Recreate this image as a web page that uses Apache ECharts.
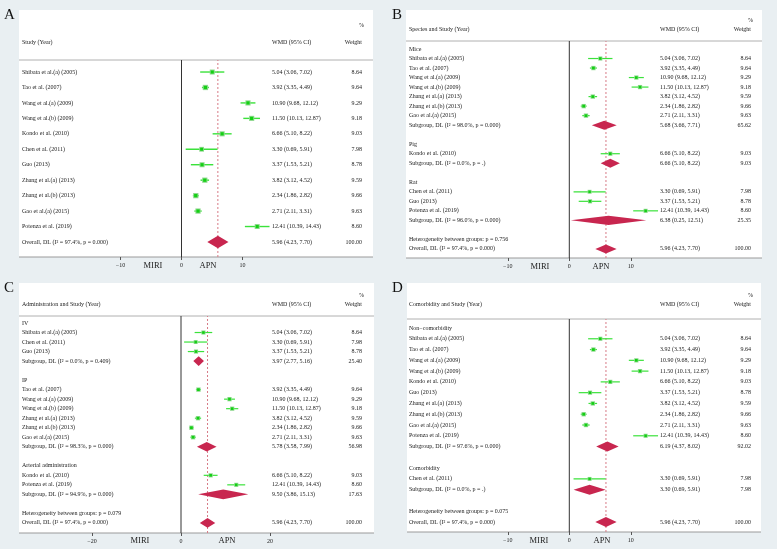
<!DOCTYPE html>
<html><head><meta charset="utf-8">
<script src="https://cdn.jsdelivr.net/npm/echarts@6/dist/echarts.min.js"></script>
<style>html,body{margin:0;padding:0;background:#e9eff2;}#c{width:777px;height:549px;}</style>
</head><body><div id="c"></div>
<script>
// ---------- DATA ----------
const studyNames = ['Shibata et al.(a) (2005)','Tao et al. (2007)','Wang et al.(a) (2009)','Wang et al.(b) (2009)','Kondo et al. (2010)','Chen et al. (2011)','Guo (2013)','Zhang et al.(a) (2013)','Zhang et al.(b) (2013)','Gao et al.(a) (2015)','Potenza et al. (2019)'];
const studyWMD    = [5.04, 3.92, 10.90, 11.50, 6.66, 3.30, 3.37, 3.82, 2.34, 2.71, 12.41];
const studyLower  = [3.06, 3.35, 9.68, 10.13, 5.10, 0.69, 1.53, 3.12, 1.86, 2.11, 10.39];
const studyUpper  = [7.02, 4.49, 12.12, 12.87, 8.22, 5.91, 5.21, 4.52, 2.82, 3.31, 14.43];
const studyWeight = [8.64, 9.64, 9.29, 9.18, 9.03, 7.98, 8.78, 9.59, 9.66, 9.63, 8.60];

const overallLabel = 'Overall, DL (I² = 97.4%, p = 0.000)';
const overallWMD = 5.96, overallLower = 4.23, overallUpper = 7.70, overallWeight = 100.00;

const allStudiesOrder = [0,1,2,3,4,5,6,7,8,9,10];

const speciesGroups   = ['Mice','Pig','Rat'];
const speciesMembers  = [[0,1,2,3,7,8,9],[4],[5,6,10]];
const speciesSubLabel = ['Subgroup, DL (I² = 98.0%, p = 0.000)','Subgroup, DL (I² = 0.0%, p = .)','Subgroup, DL (I² = 96.0%, p = 0.000)'];
const speciesSubWMD   = [5.68, 6.66, 6.38];
const speciesSubLower = [3.66, 5.10, 0.25];
const speciesSubUpper = [7.71, 8.22, 12.51];
const speciesSubWeight= [65.62, 9.03, 25.35];
const speciesHetP = '0.756';

const adminGroups   = ['IV','IP','Arterial administration'];
const adminMembers  = [[0,5,6],[1,2,3,7,8,9],[4,10]];
const adminSubLabel = ['Subgroup, DL (I² = 0.0%, p = 0.409)','Subgroup, DL (I² = 98.3%, p = 0.000)','Subgroup, DL (I² = 94.9%, p = 0.000)'];
const adminSubWMD   = [3.97, 5.78, 9.50];
const adminSubLower = [2.77, 3.58, 3.86];
const adminSubUpper = [5.16, 7.99, 15.13];
const adminSubWeight= [25.40, 56.98, 17.63];
const adminHetP = '0.079';

const comorbGroups   = ['Non−comorbidity','Comorbidity'];
const comorbMembers  = [[0,1,2,3,4,6,7,8,9,10],[5]];
const comorbSubLabel = ['Subgroup, DL (I² = 97.6%, p = 0.000)','Subgroup, DL (I² = 0.0%, p = .)'];
const comorbSubWMD   = [6.19, 3.30];
const comorbSubLower = [4.37, 0.69];
const comorbSubUpper = [8.02, 5.91];
const comorbSubWeight= [92.02, 7.98];
const comorbHetP = '0.075';

const ticksAB = [-10, 0, 10];
const ticksC  = [-20, 0, 20];

// ---------- ROW BUILDERS ----------
function studyRow(i){ return {kind:'study', label:studyNames[i], est:studyWMD[i], lo:studyLower[i], hi:studyUpper[i], w:studyWeight[i]}; }
function overallRow(){ return {kind:'overall', label:overallLabel, est:overallWMD, lo:overallLower, hi:overallUpper, w:overallWeight}; }
function grouped(names, members, subL, subE, subLo, subHi, subW, het){
  const rows = [];
  names.forEach((g, gi) => {
    rows.push({kind:'group', label:g});
    members[gi].forEach(si => rows.push(studyRow(si)));
    rows.push({kind:'sub', label:subL[gi], est:subE[gi], lo:subLo[gi], hi:subHi[gi], w:subW[gi]});
    rows.push({kind:'blank', label:''});
  });
  rows.push({kind:'het', label:'Heterogeneity between groups: p = ' + het});
  rows.push(overallRow());
  return rows;
}
const rowsA = allStudiesOrder.map(studyRow).concat([overallRow()]);
const rowsB = grouped(speciesGroups, speciesMembers, speciesSubLabel, speciesSubWMD, speciesSubLower, speciesSubUpper, speciesSubWeight, speciesHetP);
const rowsC = grouped(adminGroups, adminMembers, adminSubLabel, adminSubWMD, adminSubLower, adminSubUpper, adminSubWeight, adminHetP);
const rowsD = grouped(comorbGroups, comorbMembers, comorbSubLabel, comorbSubWMD, comorbSubLower, comorbSubUpper, comorbSubWeight, comorbHetP);

// ---------- LAYOUT ----------
const FONT = 'Liberation Serif, Times New Roman, serif';
const TXT = '#222';
const panels = [
  {letter:'A', title:'Study (Year)', rows:rowsA, ticks:ticksAB, min:-10, max:14.5,
   box:[19,10,373,257], zeroX:181.5, scale:6.1, textLeft:22, ciLeft:272, wRight:362,
   rowsTop:64.3, rowH:15.45, headerLine:60, headerY:42, pctY:25, letterXY:[4,8],
   miri:153, apn:208, axisY:266, sq:1.7, dia:0.82, lw:1.4},
  {letter:'B', title:'Species and Study (Year)', rows:rowsB, ticks:ticksAB, min:-10, max:14.5,
   box:[406,10,762,258], zeroX:569.3, scale:6.15, textLeft:409, ciLeft:660, wRight:751,
   rowsTop:44.24, rowH:9.52, headerLine:41, headerY:29, pctY:20, letterXY:[392,8],
   miri:540, apn:601, axisY:267, sq:1.4, dia:0.95, lw:1.2},
  {letter:'C', title:'Administration and Study (Year)', rows:rowsC, ticks:ticksC, min:-20, max:20,
   box:[19,283,374,533], zeroX:181, scale:4.45, textLeft:22, ciLeft:272, wRight:362,
   rowsTop:318.24, rowH:9.52, headerLine:316, headerY:304, pctY:295, letterXY:[4,281],
   miri:140, apn:227, axisY:541, sq:1.4, dia:1.02, lw:1.2},
  {letter:'D', title:'Comorbidity and Study (Year)', rows:rowsD, ticks:ticksAB, min:-10, max:14.5,
   box:[407,283,761,532], zeroX:569.3, scale:6.15, textLeft:409, ciLeft:660, wRight:751,
   rowsTop:322.6, rowH:10.78, headerLine:319, headerY:304, pctY:295, letterXY:[392,281],
   miri:539, apn:602, axisY:541, sq:1.4, dia:0.92, lw:1.2}
];

const fmt = v => v.toFixed(2);
const tickFmt = v => v < 0 ? '−' + Math.abs(v) : String(v);

const option = {animation:false, backgroundColor:'#e9eff2', grid:[], xAxis:[], yAxis:[], series:[], graphic:[]};

panels.forEach((p) => {
  const gridLeft = p.zeroX + p.min * p.scale;
  const gridWidth = (p.max - p.min) * p.scale;
  const gridRight = gridLeft + gridWidth;
  const nRows = p.rows.length;
  const cats = p.rows.map((r, i) => String(i));

  const gRows = option.grid.length;
  option.grid.push({left:gridLeft, width:gridWidth, top:p.rowsTop, height:p.rowH * nRows, containLabel:false});
  const gFrame = option.grid.length;
  option.grid.push({left:gridLeft, width:gridWidth, top:p.headerLine, height:p.box[3] - p.headerLine, containLabel:false});

  const xRows = option.xAxis.length;
  option.xAxis.push({gridIndex:gRows, type:'value', min:p.min, max:p.max, show:false});
  const xFrame = option.xAxis.length;
  option.xAxis.push({gridIndex:gFrame, type:'value', min:p.min, max:p.max, position:'bottom',
    axisLine:{show:false}, splitLine:{show:false},
    axisTick:{show:true, length:3, customValues:p.ticks, lineStyle:{color:'#555', width:1}},
    axisLabel:{customValues:p.ticks, formatter:tickFmt, fontSize:6, fontFamily:FONT, color:TXT, margin:5}});

  const yLeft = option.yAxis.length;
  option.yAxis.push({gridIndex:gRows, type:'category', inverse:true, data:cats,
    axisLine:{show:false}, axisTick:{show:false}, splitLine:{show:false},
    axisLabel:{interval:0, align:'left', margin:gridLeft - p.textLeft, fontSize:6, fontFamily:FONT, color:TXT,
      formatter:(v, i) => p.rows[i].label}});
  option.yAxis.push({gridIndex:gRows, type:'category', position:'right', inverse:true, data:cats,
    axisLine:{show:false}, axisTick:{show:false}, splitLine:{show:false},
    axisLabel:{interval:0, align:'left', margin:p.ciLeft - gridRight, fontSize:6, fontFamily:FONT, color:TXT,
      formatter:(v, i) => {
        const r = p.rows[i];
        if (r.est == null) return '';
        return '{ci|' + fmt(r.est) + ' (' + fmt(r.lo) + ', ' + fmt(r.hi) + ')}{w|' + fmt(r.w) + '}';
      },
      rich:{ci:{width:(p.wRight - p.ciLeft) - 26, fontSize:6, fontFamily:FONT, color:TXT, align:'left'},
            w:{width:26, fontSize:6, fontFamily:FONT, color:TXT, align:'right'}}}});
  const yFrame = option.yAxis.length;
  option.yAxis.push({gridIndex:gFrame, type:'value', min:0, max:1, show:false});

  // frame vertical lines
  option.series.push({type:'custom', xAxisIndex:xFrame, yAxisIndex:yFrame, z:3, encode:{x:0},
    data:[[0]], renderItem:(params, api) => {
      const a = api.coord([api.value(0), 0]), b = api.coord([api.value(0), 1]);
      return {type:'line', shape:{x1:a[0], y1:a[1], x2:b[0], y2:b[1]}, style:{stroke:'#333', lineWidth:1}};
    }});
  option.series.push({type:'custom', xAxisIndex:xFrame, yAxisIndex:yFrame, z:3, encode:{x:0},
    data:[[overallWMD]], renderItem:(params, api) => {
      const a = api.coord([api.value(0), 0]), b = api.coord([api.value(0), 1]);
      return {type:'line', shape:{x1:a[0], y1:a[1], x2:b[0], y2:b[1]}, style:{stroke:'#d77a86', lineWidth:1, lineDash:[2,2]}};
    }});

  const studyData = [];
  const diaData = [];
  p.rows.forEach((r, i) => {
    if (r.kind === 'study') studyData.push([r.est, i, r.lo, r.hi, r.w]);
    else if (r.kind === 'sub' || r.kind === 'overall') diaData.push([r.est, i, r.lo, r.hi]);
  });
  option.series.push({type:'custom', xAxisIndex:xRows, yAxisIndex:yLeft, z:4, encode:{x:[0,2,3], y:1},
    data:studyData, renderItem:(params, api) => {
      const y = api.value(1);
      const c = api.coord([api.value(0), y]);
      const l = api.coord([api.value(2), y]);
      const r = api.coord([api.value(3), y]);
      const s = p.sq * Math.sqrt(api.value(4));
      return {type:'group', children:[
        {type:'line', shape:{x1:l[0], y1:c[1], x2:r[0], y2:c[1]}, style:{stroke:'#3be23b', lineWidth:p.lw}},
        {type:'rect', shape:{x:c[0]-s/2, y:c[1]-s/2, width:s, height:s}, style:{fill:'#8fd88f'}},
        {type:'rect', shape:{x:c[0]-s/3.2, y:c[1]-s/3.2, width:s/1.6, height:s/1.6}, style:{fill:'#14d014'}}
      ]};
    }});
  option.series.push({type:'custom', xAxisIndex:xRows, yAxisIndex:yLeft, z:4, encode:{x:[0,2,3], y:1},
    data:diaData, renderItem:(params, api) => {
      const y = api.value(1);
      const c = api.coord([api.value(0), y]);
      const l = api.coord([api.value(2), y]);
      const r = api.coord([api.value(3), y]);
      const h = api.size([0, 1])[1] * p.dia / 2;
      return {type:'polygon', shape:{points:[[l[0], c[1]], [c[0], c[1]-h], [r[0], c[1]], [c[0], c[1]+h]]}, style:{fill:'#c8264f'}};
    }});

  const [bx0, by0, bx1, by1] = p.box;
  option.graphic.push(
    {type:'rect', z:-10, shape:{x:bx0, y:by0, width:bx1-bx0, height:by1-by0}, style:{fill:'#ffffff'}},
    {type:'line', z:-5, shape:{x1:bx0, y1:by1, x2:bx1, y2:by1}, style:{stroke:'#9a9a9a', lineWidth:1}},
    {type:'line', z:-5, shape:{x1:bx0, y1:p.headerLine, x2:bx1, y2:p.headerLine}, style:{stroke:'#b0b0b0', lineWidth:1}},
    {type:'text', x:p.letterXY[0], y:p.letterXY[1], style:{text:p.letter, fontSize:15, fontFamily:FONT, fill:'#111', align:'left', verticalAlign:'top'}},
    {type:'text', x:p.textLeft, y:p.headerY, style:{text:p.title, fontSize:6, fontFamily:FONT, fill:TXT, align:'left', verticalAlign:'middle'}},
    {type:'text', x:p.ciLeft, y:p.headerY, style:{text:'WMD (95% CI)', fontSize:6, fontFamily:FONT, fill:TXT, align:'left', verticalAlign:'middle'}},
    {type:'text', x:p.wRight, y:p.headerY, style:{text:'Weight', fontSize:6, fontFamily:FONT, fill:TXT, align:'right', verticalAlign:'middle'}},
    {type:'text', x:p.wRight + 2, y:p.pctY, style:{text:'%', fontSize:6, fontFamily:FONT, fill:TXT, align:'right', verticalAlign:'middle'}},
    {type:'text', x:p.miri, y:p.axisY, style:{text:'MIRI', fontSize:8.5, fontFamily:FONT, fill:TXT, align:'center', verticalAlign:'middle'}},
    {type:'text', x:p.apn, y:p.axisY, style:{text:'APN', fontSize:8.5, fontFamily:FONT, fill:TXT, align:'center', verticalAlign:'middle'}}
  );
});

const chart = echarts.init(document.getElementById('c'), null, {width:777, height:549});
chart.setOption(option);
</script>
</body></html>
